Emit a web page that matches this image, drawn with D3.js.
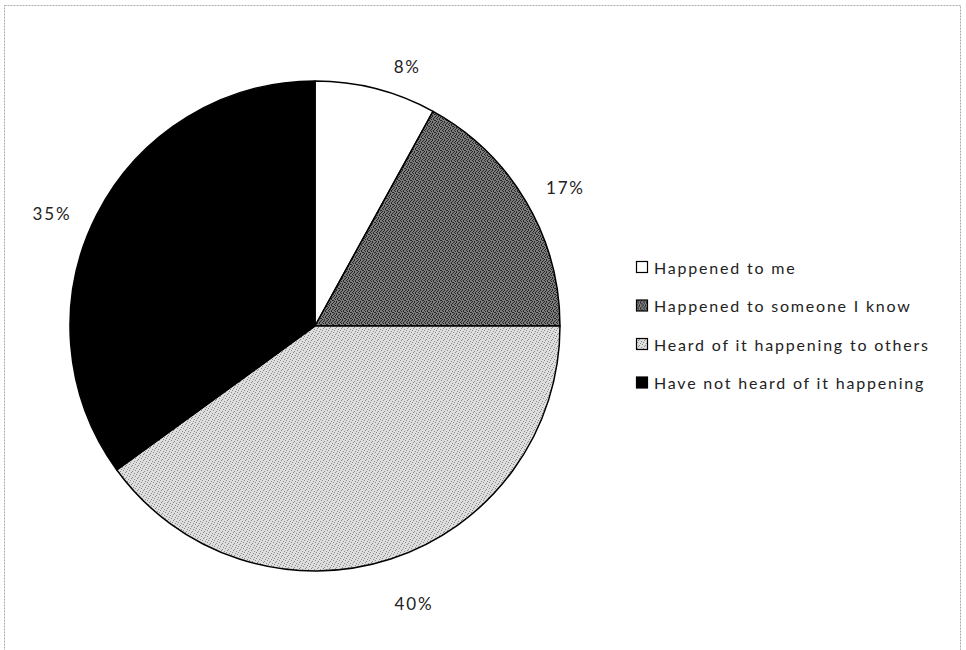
<!DOCTYPE html>
<html>
<head>
<meta charset="utf-8">
<script src="https://cdn.jsdelivr.net/npm/d3@7"></script>
<style>
  html, body { margin: 0; padding: 0; background: #fff; }
  svg { display: block; }
  text { font-family: Lato, "Open Sans", sans-serif; fill: #222; }
</style>
</head>
<body>
<svg id="chart" width="966" height="650"></svg>
<script>
// Survey answers, share of respondents (%)
const categories = [
  "Happened to me",
  "Happened to someone I know",
  "Heard of it happening to others",
  "Have not heard of it happening"
];
const shares = [8, 17, 40, 35];
const pctLabels = ["8%", "17%", "40%", "35%"];

// Label layout: angular nudge (degrees) and distance from the centre (px)
const labelNudge = [5.2, 1.7, -1.6, -3.9];
const labelDist = [275, 286, 295, 286];

const svg = d3.select("#chart");
const defs = svg.append("defs");

// Stippled fills, built from small dither tiles
function dither(id, size, base, dots, dotColor) {
  const p = defs.append("pattern")
    .attr("id", id).attr("patternUnits", "userSpaceOnUse")
    .attr("width", size).attr("height", size);
  p.append("rect").attr("width", size).attr("height", size).attr("fill", base);
  dots.forEach(([x, y]) => p.append("rect").attr("x", x).attr("y", y)
    .attr("width", 1).attr("height", 1).attr("fill", dotColor));
}
dither("darkDots", 6, "#7c7c7c",
  [[0,0],[3,0],[5,1],[1,2],[4,2],[2,3],[0,4],[5,4],[3,5],[1,5],[4,3],[2,1]], "#262626");
dither("lightDots", 6, "#dedede",
  [[0,0],[3,1],[5,3],[1,4],[4,5],[2,2]], "#8a8a8a");

const fills = ["#ffffff", "url(#darkDots)", "url(#lightDots)", "#000000"];

// Chart frame
svg.append("rect")
  .attr("x", 4.5).attr("y", 5.5).attr("width", 956).attr("height", 660)
  .attr("fill", "none").attr("stroke", "#aaa").attr("stroke-width", 1)
  .attr("stroke-dasharray", "2,1");

const cx = 315, cy = 326, r = 245;
const pie = d3.pie().sort(null).value(d => d)(shares);
const arc = d3.arc().innerRadius(0).outerRadius(r);

const g = svg.append("g").attr("transform", `translate(${cx},${cy})`);
g.selectAll("path.slice").data(pie).join("path")
  .attr("class", "slice")
  .attr("d", arc)
  .attr("fill", (d, i) => fills[i])
  .attr("stroke", "#000").attr("stroke-width", 1.5)
  .attr("stroke-linejoin", "round");

// Percentage labels outside the rim, around each slice's mid-angle
g.selectAll("text.pct").data(pie).join("text")
  .attr("class", "pct")
  .attr("transform", (d, i) => {
    const a = (d.startAngle + d.endAngle) / 2 + labelNudge[i] * Math.PI / 180;
    const x = Math.sin(a) * labelDist[i], y = -Math.cos(a) * labelDist[i];
    return `translate(${x},${y})`;
  })
  .attr("text-anchor", "middle")
  .attr("dominant-baseline", "central")
  .attr("font-size", 17)
  .attr("letter-spacing", 1.8)
  .text((d, i) => pctLabels[i]);

// Legend
const lg = svg.append("g").attr("transform", "translate(636,267)");
const rows = lg.selectAll("g").data(categories).join("g")
  .attr("transform", (d, i) => `translate(0,${i * 38.5})`);
rows.append("rect")
  .attr("x", 0.5).attr("y", -5.5).attr("width", 11).attr("height", 11)
  .attr("fill", (d, i) => fills[i])
  .attr("stroke", "#000").attr("stroke-width", 1.2);
rows.append("text")
  .attr("x", 18).attr("y", 0)
  .attr("dominant-baseline", "central")
  .attr("font-size", 16)
  .attr("letter-spacing", 1.8)
  .text(d => d);
</script>
</body>
</html>
